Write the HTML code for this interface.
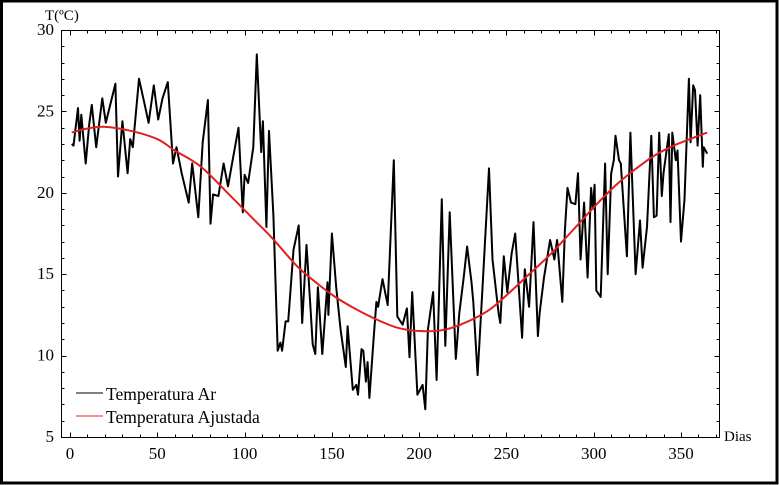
<!DOCTYPE html>
<html><head><meta charset="utf-8"><style>
body{margin:0;background:#fff}
svg{display:block;font-family:"Liberation Serif",serif}
</style></head><body>
<svg id="chart" width="779" height="485">
<rect x="1.5" y="1" width="775.5" height="482" fill="#fff" stroke="#000" stroke-width="3"/>
<rect x="61.5" y="30.5" width="658" height="407" fill="none" stroke="#000" stroke-width="1"/>
<g id="ticks"></g>
<text x="45" y="20" font-size="15">T(ºC)</text>
<text x="724" y="441" font-size="15">Dias</text>
<g id="series"></g>
<g>
<line x1="76" y1="393" x2="103" y2="393" stroke="#000" stroke-width="1"/>
<text x="106" y="400" font-size="17.5">Temperatura Ar</text>
<line x1="76" y1="416" x2="103" y2="416" stroke="#e02020" stroke-width="1"/>
<text x="106" y="423" font-size="17.5">Temperatura Ajustada</text>
</g>
</svg>
<script>
const xTicks=[0,50,100,150,200,250,300,350];
const yTicks=[5,10,15,20,25,30];
const airDays=[1,2,4.6,5.5,6.5,9,11,12.5,15,18.5,20.5,26,27.5,30,33,34.5,36,39.5,43,45,48,50.5,53,56,59,61,64,68,70,73.5,76,79,80.5,82,85,88,90.5,93.5,96.5,99,100,102,105,107,109.5,110.5,112.5,114,116.5,119,120.5,121.5,123.5,125,128,131,133,135.5,137.5,139,140.5,142,144.5,147.5,148,150,152.5,155,158,159,162,164,165,167,168,169.5,170.5,171.5,174,175.5,176.5,179,182,185.5,187.5,190.5,193,194.5,196,199,202,203.5,205,208,210,213,215,217.5,221,223,225.5,227.5,230,231,233.5,236,240,242,245.5,246.5,248.5,250.5,253,255,259,260.5,263,265.5,268,269,271.5,275,277.5,279,282,283.5,285,287,289.5,291,292.5,294.5,296.5,298.5,299.5,300.5,301.5,304,306.5,308,310,311.5,312.5,314.5,315.5,319,321,324,326.5,328,330.5,333,334.5,336,337.5,339,340,343,344,345,347,348,350,352,354.5,355.5,357,358,359.5,361,362.5,363,365];
const airTemps=[23,22.9,25.2,23.2,24.8,21.8,24.2,25.4,22.8,25.8,24.3,26.7,21,24.4,21.2,23.3,22.8,27,25.3,24.3,26.6,24.5,25.8,26.8,21.8,22.8,21.2,19.4,21.8,18.5,23.1,25.7,18.1,19.9,19.8,21.8,20.4,22.2,24,18.8,21.1,20.6,22.8,28.5,22.5,24.4,17.9,23.8,18.6,10.3,10.8,10.3,12.1,12.1,16.5,18,12,16.8,13.4,10.7,10.1,14.2,10.1,14.5,12.5,17.5,14.2,11.6,9.3,11.8,7.9,8.2,7.6,10.4,10.3,8.4,9.6,7.4,11.2,13.3,13,14.7,13.1,22,12.4,11.9,12.9,9.9,13.9,7.6,8.2,6.7,11.6,13.9,8.5,19.6,10.6,18.8,9.8,12.6,14.8,16.7,14.5,13.3,8.8,13.6,21.5,15.9,12.6,12,16.1,13.9,16.3,17.5,11.1,15.3,13,18.2,11.2,12.6,14.8,17.1,15.9,17.1,13.3,17.7,20.3,19.4,19.3,21.2,15.9,19.4,14.8,20.3,19,20.5,14,13.6,21.8,15,21.2,22,23.5,22,21.8,16.1,23.7,15,18.3,15.4,17.9,23.5,18.5,18.6,23.7,19.8,21.2,23.6,18.2,23.7,22,22.6,17,19.6,27,23.1,26.6,26.3,22.9,26,21.6,22.8,22.4,26.6];
const fitDays=[1,10,20,35,50,60,75,92,104,116,130,142,152,163,174,188,202,215,228,240,250,262,275,288,300,312,322,335,348,365];
const fitTemps=[23.7,23.95,24.05,23.8,23.3,22.6,21.6,19.8,18.5,17.2,15.5,14.4,13.6,12.9,12.3,11.7,11.5,11.6,12.1,12.8,13.7,14.9,16.2,17.7,19.1,20.4,21.3,22.3,23.0,23.7];

const NS="http://www.w3.org/2000/svg";
const X0=61.5,X1=719.5,Y0=30.5,Y1=437.5;
function xs(d){return 70+d*(681-70)/350;}
function ys(t){return 437-(t-5)*(437-30)/25;}
function mk(tag,attrs,parent){const e=document.createElementNS(NS,tag);for(const k in attrs)e.setAttribute(k,attrs[k]);parent.appendChild(e);return e;}
const tg=document.getElementById('ticks');
for(let t=5;t<=30;t++){
  const major=t%5===0;const len=major?5:3;const y=Math.round(ys(t))+0.5;
  const a=mk('line',{x1:X0,y1:y,x2:X0+len,y2:y,stroke:'#000','stroke-width':1},tg);
  
  
  const b=mk('line',{x1:X1,y1:y,x2:X1-len,y2:y,stroke:'#000','stroke-width':1},tg);
  
  
}
yTicks.forEach(t=>{
  const l=mk('text',{x:54,y:ys(t)+5,'font-size':17,'text-anchor':'end'},tg);
  l.textContent=t;
  
  
});
for(let d=0;d<=370;d+=10){
  const major=d%50===0;const len=major?5:3;const x=Math.round(xs(d))+0.5;
  if(x>X1)break;
  const a=mk('line',{x1:x,y1:Y1,x2:x,y2:Y1-len,stroke:'#000','stroke-width':1},tg);
  
  
  const b=mk('line',{x1:x,y1:Y0,x2:x,y2:Y0+len,stroke:'#000','stroke-width':1},tg);
  
  
}
xTicks.forEach(d=>{
  const l=mk('text',{x:xs(d),y:459,'font-size':17,'text-anchor':'middle'},tg);
  l.textContent=d;
  
  
});
const sg=document.getElementById('series');
const air=mk('polyline',{points:airDays.map((d,i)=>xs(d).toFixed(1)+','+ys(airTemps[i]).toFixed(1)).join(' '),fill:'none',stroke:'#000','stroke-width':2,'stroke-linejoin':'round'},sg);


let pts=fitDays.map((d,i)=>[xs(d),ys(fitTemps[i])]);
let p='M'+pts[0][0]+','+pts[0][1];
for(let i=0;i<pts.length-1;i++){
  const p0=pts[Math.max(0,i-1)],p1=pts[i],p2=pts[i+1],p3=pts[Math.min(pts.length-1,i+2)];
  const c1=[p1[0]+(p2[0]-p0[0])/6,p1[1]+(p2[1]-p0[1])/6];
  const c2=[p2[0]-(p3[0]-p1[0])/6,p2[1]-(p3[1]-p1[1])/6];
  p+=' C'+c1.join(',')+' '+c2.join(',')+' '+p2.join(',');
}
const fit=mk('path',{d:p,fill:'none',stroke:'#e02020','stroke-width':2},sg);


</script>
</body></html>
